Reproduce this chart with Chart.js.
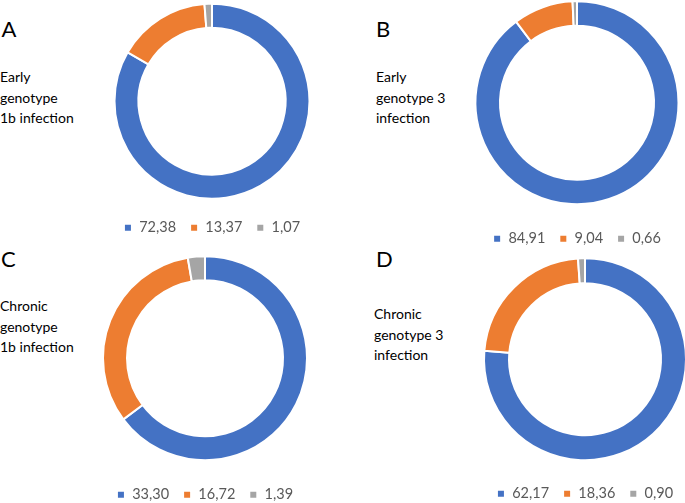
<!DOCTYPE html>
<html>
<head>
<meta charset="utf-8">
<script src="https://cdn.jsdelivr.net/npm/chart.js@4/dist/chart.umd.min.js"></script>
<style>
  html, body { margin: 0; padding: 0; background: #fff; overflow: hidden; }
  body { width: 685px; height: 503px; position: relative; font-family: Lato, sans-serif; }
  canvas { position: absolute; }
  .letter { position: absolute; font-size: 22px; line-height: 22px; color: #000; }
  .title { position: absolute; font-size: 14px; line-height: 20.5px; color: #000; white-space: nowrap; }
</style>
</head>
<body>
<div class="letter" style="left:1.5px;top:17.5px">A</div>
<div class="letter" style="left:376px;top:17.5px">B</div>
<div class="letter" style="left:1px;top:247.5px">C</div>
<div class="letter" style="left:376px;top:247.5px">D</div>
<div class="title" id="t0" style="left:0px;top:67px"></div>
<div class="title" id="t1" style="left:376px;top:67px"></div>
<div class="title" id="t2" style="left:0px;top:296.3px"></div>
<div class="title" id="t3" style="left:374px;top:304.3px"></div>

<canvas id="c0" width="260" height="249" style="left:81.5px;top:-3.75px"></canvas>
<canvas id="c1" width="260" height="268" style="left:446.5px;top:-11.75px"></canvas>
<canvas id="c2" width="260" height="269" style="left:75px;top:243.25px"></canvas>
<canvas id="c3" width="260" height="265" style="left:454.7px;top:245.85px"></canvas>

<script>
// values (legend numbers)
const earlyGt1b = [72.38, 13.37, 1.07];
const earlyGt3 = [84.91, 9.04, 0.66];
const chronicGt1b = [33.30, 16.72, 1.39];
const chronicGt3 = [62.17, 18.36, 0.90];

const panelTitles = [
    ['Early', 'genotype', '1b infection'],
    ['Early', 'genotype 3', 'infection'],
    ['Chronic', 'genotype', '1b infection'],
    ['Chronic', 'genotype 3', 'infection']
];

const sliceColors = ['#4472C4', '#ED7D31', '#A5A5A5'];
const outerRadius = [96.5, 100.5, 101, 100];
const innerRadius = [74.5, 78, 79, 77];

const allSeries = [earlyGt1b, earlyGt3, chronicGt1b, chronicGt3];

function fmt(v) {
    return v.toFixed(2).replace('.', ',');
}

allSeries.forEach(function (values, i) {
    document.getElementById('t' + i).innerHTML = panelTitles[i].join('<br>');

    // white 2px border eats 1px on each edge, so widen a little
    const r = outerRadius[i] + 1;
    const cut = ((innerRadius[i] - 1) / r * 100) + '%';

    new Chart(document.getElementById('c' + i), {
        type: 'doughnut',
        data: {
            labels: values.map(fmt),
            datasets: [{
                data: values,
                backgroundColor: sliceColors,
                borderColor: '#ffffff',
                borderWidth: 2,
                hoverOffset: 0
            }]
        },
        options: {
            responsive: false,
            animation: false,
            radius: r,
            cutout: cut,
            layout: { padding: 0 },
            plugins: {
                tooltip: { enabled: false },
                legend: {
                    position: 'bottom',
                    labels: {
                        boxWidth: 8,
                        boxHeight: 8,
                        padding: 14,
                        color: '#595959',
                        font: { family: 'Lato', size: 14.5 }
                    }
                }
            }
        }
    });
});
</script>
</body>
</html>
